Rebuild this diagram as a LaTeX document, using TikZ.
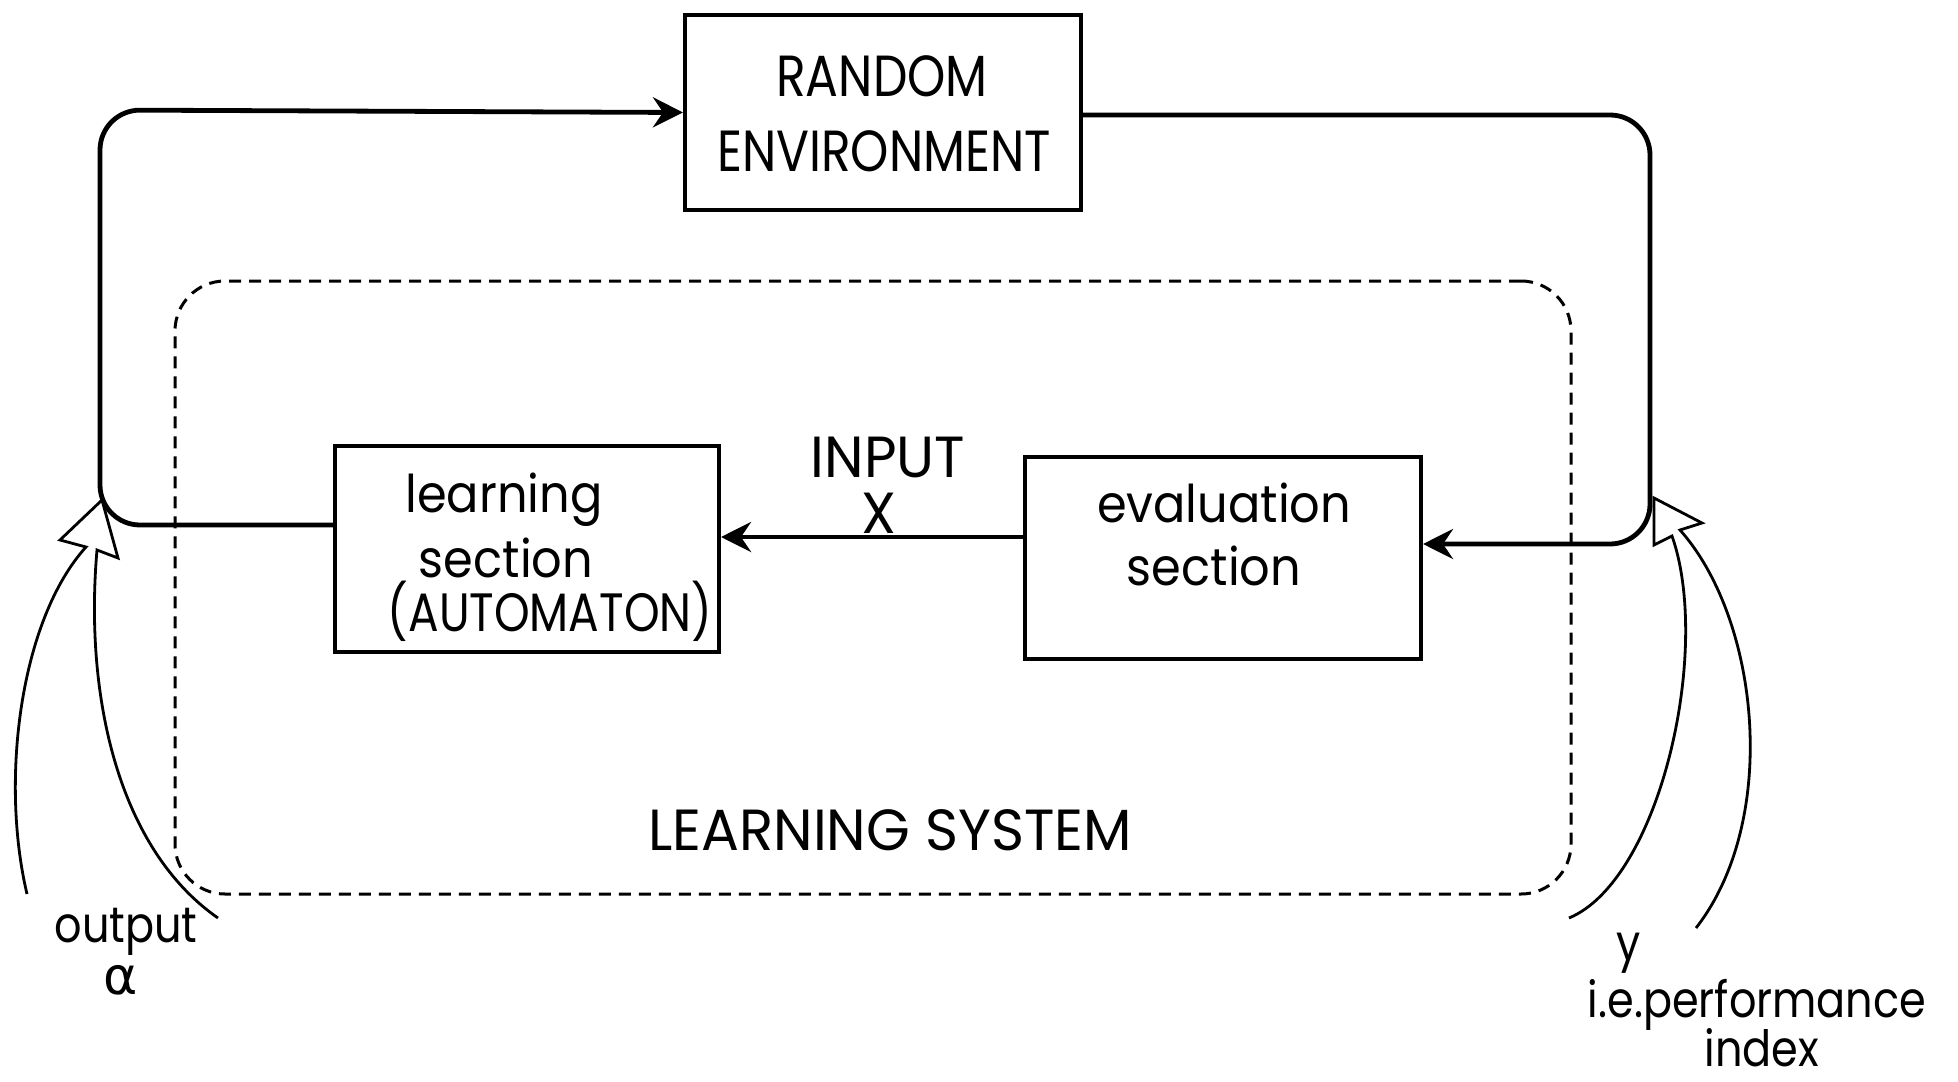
\documentclass[tikz,border=0pt]{standalone}
\usepackage{fontspec}
\setmainfont{Poppins}
\newfontfamily\capsfont[FakeStretch=0.84]{Poppins}
\newfontfamily\widecapsfont[FakeStretch=0.97]{Poppins}
\newfontfamily\lowfont[FakeStretch=0.92]{Poppins}
\newfontfamily\narrowlowfont[FakeStretch=0.86]{Poppins}
\newfontfamily\greekfont{DejaVu Sans}
\usetikzlibrary{arrows.meta}
\tikzset{
  blockbox/.style={draw, line width=2pt, inner sep=0pt},
  loopline/.style={line width=2.4pt, rounded corners=20pt},
  headtip/.style={-{Stealth[length=15pt,width=15pt,inset=5pt]}},
  capstext/.style={anchor=base, inner sep=0pt, font=\fontsize{29}{34}\selectfont\capsfont},
  widecaps/.style={anchor=base, inner sep=0pt, font=\fontsize{29}{34}\selectfont\widecapsfont},
  lowtext/.style={anchor=base, inner sep=0pt, font=\fontsize{26}{30}\selectfont\lowfont},
  smalllow/.style={anchor=base, inner sep=0pt, font=\fontsize{25}{28}\selectfont\narrowlowfont},
  sysbox/.style={draw, line width=1.5pt, dash pattern=on 6pt off 4pt, rounded corners=25pt, inner sep=0pt},
  fatarrow/.style={line width=1.4pt, line join=miter}
}
\begin{document}
\begin{tikzpicture}[x=0.5pt,y=-0.5pt]
\useasboundingbox[fill=white] (0,0) rectangle (1958,1081);

% blocks
\node[blockbox, minimum width=198pt, minimum height=97.5pt] (env) at (883,112.5) {};
\node[blockbox, minimum width=192pt, minimum height=103pt] (learn) at (527,549) {};
\node[blockbox, minimum width=198pt, minimum height=101pt] (eval) at (1223,558) {};
\node[sysbox, minimum width=698pt, minimum height=306.5pt] (sys) at (873,587.5) {};

% texts
\node[capstext] (t1) at (882,97) {RANDOM};
\node[capstext] (t2) at (884,171) {ENVIRONMENT};
\node[lowtext] (t3) at (504,512) {learning};
\node[lowtext] (t4) at (506,577) {section};
\node[capstext, font=\fontsize{27}{30}\selectfont\capsfont] (t5) at (550,631) {(AUTOMATON)};
\node[lowtext] (t6) at (1224,522) {evaluation};
\node[lowtext] (t7) at (1214,585) {section};
\node[widecaps] (t8) at (888,477) {INPUT};
\node[widecaps] (t9) at (879,533) {X};
\node[widecaps] (t10) at (890,850) {LEARNING SYSTEM};
\node[smalllow] (t11) at (126,942) {output};
\node[smalllow, font=\fontsize{26}{30}\selectfont\greekfont] (t12) at (121,994) {α};
\node[smalllow] (t13) at (1629,960) {y};
\node[smalllow] (t14) at (1757,1017) {i.e.performance};
\node[smalllow] (t15) at (1762,1066) {index};

% corner coordinates of the loop
\coordinate (ll) at (100,525);
\coordinate (ul) at (100,110);
\coordinate (ur) at (1650,115);
\coordinate (lr) at (1650,544);

% connectors
\draw[loopline, headtip] ([yshift=12pt]learn.west) -- (ll) -- (ul) -- (env.west);
\draw[loopline, headtip] ([yshift=-1.25pt]env.east) -- (ur) -- (lr) -- ([yshift=7pt]eval.east);
\draw[loopline, headtip] ([yshift=10.5pt]eval.west) -- ([yshift=10.5pt]eval.west -| learn.east);

% hollow curved arrows
\coordinate (a1) at (27,894);
\coordinate (a2) at (218,918);
\draw[fatarrow] (a1) .. controls (0,780) and (20,620) .. (86,547) -- (60,540) -- (102,500) -- (118,558) -- (97,550) .. controls (84,700) and (120,850) .. (a2);
\coordinate (b1) at (1569,918);
\coordinate (b2) at (1696,928);
\draw[fatarrow] (b1) .. controls (1660,880) and (1712,650) .. (1672,536) -- (1654,545) -- (1654,498) -- (1702,523) -- (1680,530) .. controls (1760,620) and (1780,820) .. (b2);
\end{tikzpicture}
\end{document}
